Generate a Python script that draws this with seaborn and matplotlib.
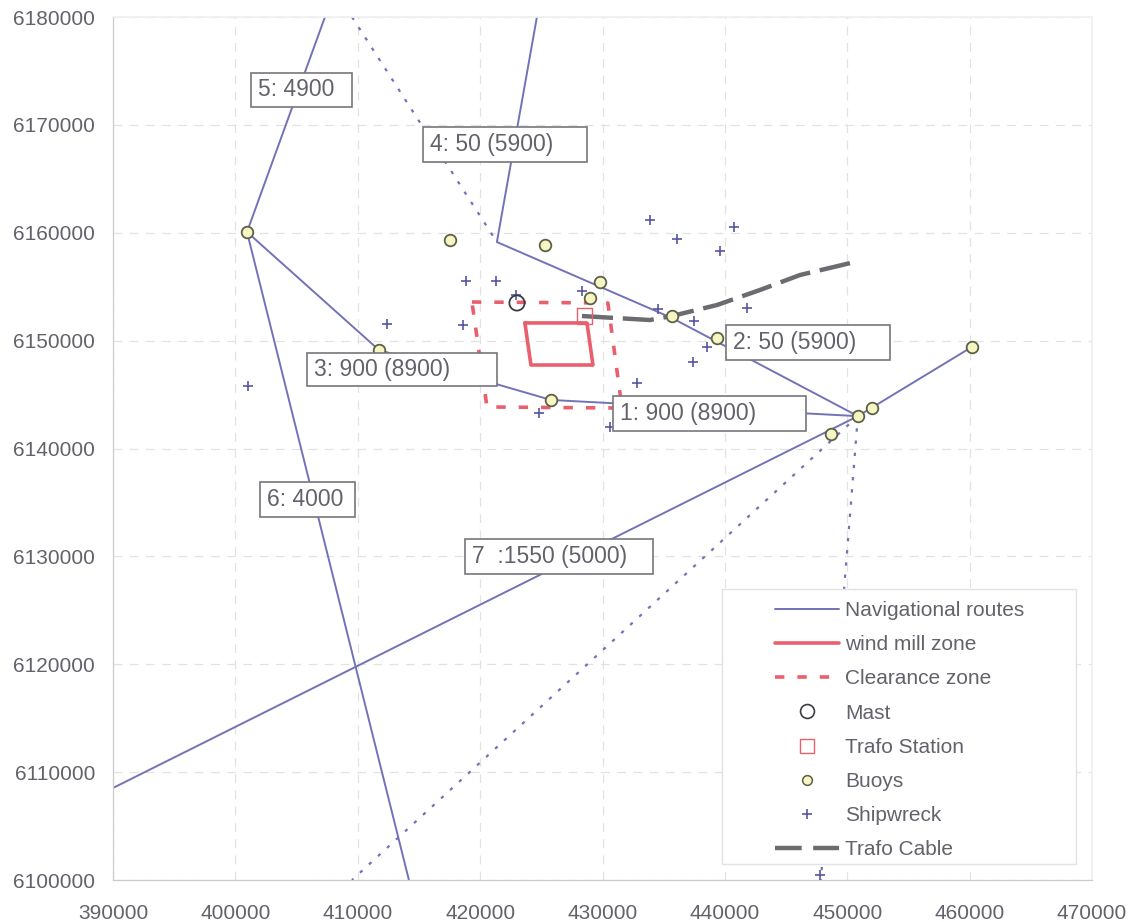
import matplotlib
matplotlib.use("Agg")
import matplotlib.pyplot as plt
import seaborn as sns
from matplotlib.lines import Line2D
from matplotlib.patches import Rectangle
from matplotlib.ticker import ScalarFormatter

FIG_W, FIG_H = 1139, 922

# routes
route_west_x = [407320, 400950, 414180]
route_west_y = [6180000, 6160070, 6100000]
route_south_x = [400950, 411730, 425790, 450870]
route_south_y = [6160070, 6149130, 6144500, 6143000]
route_north_x = [424640, 421370, 435670, 450870]
route_north_y = [6180000, 6159140, 6152100, 6143000]
route_east_x = [390000, 450870, 460180]
route_east_y = [6108530, 6143000, 6149410]

dotted_a_x = [409530, 421370]
dotted_a_y = [6180000, 6159140]
dotted_b_x = [450870, 409530]
dotted_b_y = [6143000, 6100000]
dotted_c_x = [450870, 447840]
dotted_c_y = [6143000, 6100000]

zone_x = [423660, 428730, 429220, 424150, 423660]
zone_y = [6151640, 6151640, 6147740, 6147740, 6151640]
clearance_x = [419330, 430440, 431590, 420560, 419330]
clearance_y = [6153580, 6153490, 6143750, 6143850, 6153580]
cable_x = [428320, 433870, 435670, 439350, 442860, 446130, 450950]
cable_y = [6152280, 6151910, 6152280, 6153300, 6154690, 6156080, 6157380]

mast_x = [423010]
mast_y = [6153490]
trafo_x = [428560]
trafo_y = [6152280]
buoy_x = [400950, 411730, 417530, 425290, 429790, 428970, 435670, 439350,
          425790, 448660, 450870, 452010, 460180]
buoy_y = [6160070, 6149130, 6159330, 6158860, 6155430, 6153950, 6152280, 6150240,
          6144500, 6141340, 6143000, 6143750, 6149410]
wreck_x = [401030, 412390, 418840, 418600, 421290, 422925, 428320, 433870, 436080,
           439590, 440740, 434530, 437470, 437390, 438530, 441800, 432810, 424800,
           430600, 447760]
wreck_y = [6145800, 6151540, 6155530, 6151450, 6155530, 6154230, 6154600, 6161180,
           6159420, 6158310, 6160530, 6152930, 6151820, 6148020, 6149410, 6153030,
           6146070, 6143290, 6142000, 6100460]

x_ticks = list(range(390000, 470001, 10000))
y_ticks = list(range(6100000, 6180001, 10000))

label_texts = ["5: 4900", "4: 50 (5900)", "3: 900 (8900)", "2: 50 (5900)",
               "1: 900 (8900)", "6: 4000", "7  :1550 (5000)"]
legend_names = ["Navigational routes", "wind mill zone", "Clearance zone", "Mast",
                "Trafo Station", "Buoys", "Shipwreck", "Trafo Cable"]

ROUTE = "#7272b8"
RED = "#ea5f6e"
GREY = "#62626c"
CABLE = "#6b6b70"

sns.set_theme(style="white")
plt.rcParams["font.family"] = ["Liberation Sans", "DejaVu Sans"]


def frac(px, py):
    return px / FIG_W, 1 - py / FIG_H


fig = plt.figure(figsize=(FIG_W / 100, FIG_H / 100), dpi=100)
ax = fig.add_axes([113 / FIG_W, 1 - 880 / FIG_H, (1092 - 113) / FIG_W, (880 - 17) / FIG_H])

for xs, ys in [(route_west_x, route_west_y), (route_south_x, route_south_y),
               (route_north_x, route_north_y), (route_east_x, route_east_y)]:
    sns.lineplot(x=xs, y=ys, ax=ax, sort=False, estimator=None, color=ROUTE, linewidth=1.4)
for xs, ys in [(dotted_a_x, dotted_a_y), (dotted_b_x, dotted_b_y), (dotted_c_x, dotted_c_y)]:
    sns.lineplot(x=xs, y=ys, ax=ax, sort=False, estimator=None, color=ROUTE,
                 linewidth=1.6, linestyle=(0, (1.5, 4)))

sns.lineplot(x=clearance_x, y=clearance_y, ax=ax, sort=False, estimator=None, color=RED,
             linewidth=2.6, linestyle=(0, (2.6, 3.6)))
sns.lineplot(x=zone_x, y=zone_y, ax=ax, sort=False, estimator=None, color=RED, linewidth=2.6)
sns.lineplot(x=cable_x, y=cable_y, ax=ax, sort=False, estimator=None, color=CABLE,
             linewidth=3.2, linestyle=(0, (7, 2.2)))

sns.scatterplot(x=wreck_x, y=wreck_y, ax=ax, marker="+", s=55, color="#5656a4", linewidth=1.2, zorder=3)
sns.scatterplot(x=trafo_x, y=trafo_y, ax=ax, marker="s", s=120, facecolor="none",
                edgecolor=RED, linewidth=1.0, zorder=3)
sns.scatterplot(x=mast_x, y=mast_y, ax=ax, marker="o", s=120, facecolor="none",
                edgecolor="#3c3c48", linewidth=1.3, zorder=3)
sns.scatterplot(x=buoy_x, y=buoy_y, ax=ax, marker="o", s=70, facecolor="#f6f6c4",
                edgecolor="#5e6044", linewidth=1.3, zorder=4)

ax.set_xlim(390000, 470000)
ax.set_ylim(6100000, 6180000)
ax.set_xticks(x_ticks)
ax.set_yticks(y_ticks)
plain = ScalarFormatter(useOffset=False)
plain.set_scientific(False)
ax.yaxis.set_major_formatter(plain)
ax.grid(True, color="#e2e2e2", linewidth=0.9, linestyle=(0, (7, 6)))
ax.set_axisbelow(True)
ax.tick_params(axis="x", length=0, pad=17, labelsize=15, labelcolor=GREY)
ax.tick_params(axis="y", length=0, pad=13, labelsize=15, labelcolor=GREY)
for side in ["right", "top"]:
    ax.spines[side].set_color("#f0f0f0")
for side in ["left", "bottom"]:
    ax.spines[side].set_color("#cccccc")
    ax.spines[side].set_linewidth(0.9)

# route labels, boxes are wider than their text so they are placed by hand
label_boxes = [(251, 73, 352, 107), (423, 127, 587, 162), (307, 353, 497, 386),
               (726, 325, 890, 360), (613, 396, 806, 431), (260, 482, 355, 517),
               (465, 539, 653, 574)]
for text, (x0, y0, x1, y1) in zip(label_texts, label_boxes):
    fx, fy = frac(x0, y1)
    fw, fh = (x1 - x0) / FIG_W, (y1 - y0) / FIG_H
    ax.add_patch(Rectangle((fx, fy), fw, fh, transform=fig.transFigure, facecolor="white",
                           edgecolor="#77777c", linewidth=1.2, zorder=6, clip_on=False))
    tx, ty = frac(x0 + 7, (y0 + y1) / 2)
    ax.text(tx, ty, text, transform=fig.transFigure, fontsize=16.5, color=GREY,
            ha="left", va="center", zorder=7)

# legend box sits well left of the handles, so the frame is a separate patch
lx, ly = frac(722, 864)
ax.add_patch(Rectangle((lx, ly), (1076 - 722) / FIG_W, (864 - 589) / FIG_H, transform=fig.transFigure,
                       facecolor="white", edgecolor="#e2e2e2", linewidth=1.0, zorder=5, clip_on=False))

handles = [
    Line2D([], [], color=ROUTE, linewidth=1.4),
    Line2D([], [], color=RED, linewidth=2.6),
    Line2D([], [], color=RED, linewidth=2.6, linestyle=(0, (2.6, 3.6))),
    Line2D([], [], linestyle="none", marker="o", markersize=10, markerfacecolor="none",
           markeredgecolor="#3c3c48", markeredgewidth=1.2),
    Line2D([], [], linestyle="none", marker="s", markersize=10, markerfacecolor="none",
           markeredgecolor=RED, markeredgewidth=1.0),
    Line2D([], [], linestyle="none", marker="o", markersize=7, markerfacecolor="#f6f6c4",
           markeredgecolor="#5e6044", markeredgewidth=1.1),
    Line2D([], [], linestyle="none", marker="+", markersize=7, color="#5656a4", markeredgewidth=1.2),
    Line2D([], [], color=CABLE, linewidth=3.2, linestyle=(0, (6, 2.6))),
]
leg = ax.legend(handles, legend_names, loc="upper left", bbox_to_anchor=frac(775, 601),
                bbox_transform=fig.transFigure, frameon=False, fontsize=15, labelcolor=GREY,
                borderpad=0, borderaxespad=0, handlelength=3.05, handletextpad=0.3,
                labelspacing=0.73)
leg.set_zorder(6)

fig.savefig("out.png", dpi=100, facecolor="white")
